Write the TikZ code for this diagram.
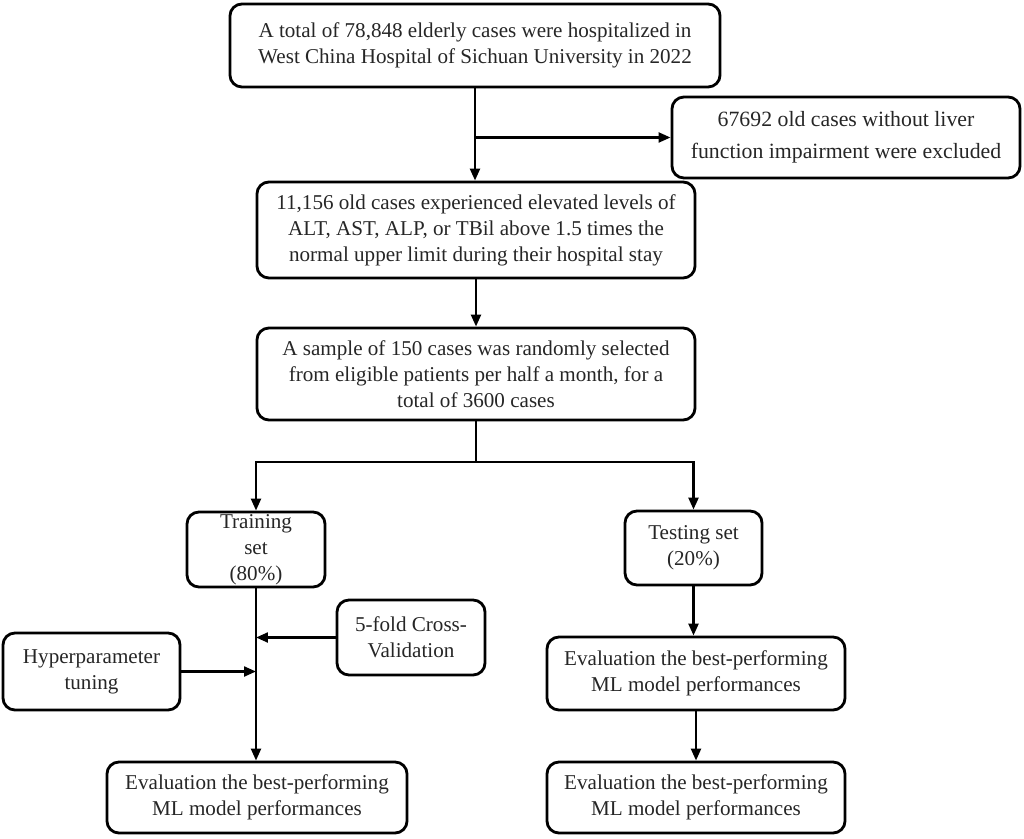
\documentclass[tikz,border=0pt]{standalone}
\usepackage{fontspec}
\setmainfont{Liberation Serif}
\usetikzlibrary{arrows.meta}
\begin{document}
\begin{tikzpicture}[x=0.025cm, y=-0.025cm,
  box/.style={draw=black, line width=2pt, rounded corners=0.3cm, align=center,
    inner sep=0pt, font=\fontsize{15}{18.5}\selectfont, text=black!85},
  arr/.style={line width=1.8pt, -{Triangle[length=8.5pt,width=7pt]}},
  ln/.style={line width=1.8pt}]
\useasboundingbox (0,0) rectangle (1024,839);
\node[box, minimum width=12.25cm, minimum height=2.075cm] (b1) at (475,45.5)
  {A total of 78,848 elderly cases were hospitalized in\\West China Hospital of Sichuan University in 2022};
\node[box, minimum width=8.7cm, minimum height=2.025cm, font=\fontsize{15.5}{23}\selectfont] (excl) at (846,137.5)
  {67692 old cases without liver\\function impairment were excluded};
\node[box, minimum width=10.95cm, minimum height=2.4cm] (b3) at (476,230)
  {11,156 old cases experienced elevated levels of\\ALT, AST, ALP, or TBil above 1.5 times the\\normal upper limit during their hospital stay};
\node[box, minimum width=10.95cm, minimum height=2.3cm] (b4) at (476,374)
  {A sample of 150 cases was randomly selected\\from eligible patients per half a month, for a\\total of 3600 cases};
\node[box, minimum width=3.45cm, minimum height=1.875cm] (train) at (256,549.5)
  {Training\\set\\(80\%)};
\node[box, minimum width=3.425cm, minimum height=1.85cm] (test) at (693.5,548)
  {Testing set\\(20\%)};
\node[box, minimum width=3.7cm, minimum height=1.875cm] (cv) at (411,637.5)
  {5-fold Cross-\\Validation};
\node[box, minimum width=4.425cm, minimum height=1.925cm] (hp) at (91.5,671.5)
  {Hyperparameter\\tuning};
\node[box, minimum width=7.5cm, minimum height=1.775cm] (evl) at (257,797.5)
  {Evaluation the best-performing\\ML model performances};
\node[box, minimum width=7.45cm, minimum height=1.825cm] (evr1) at (696,673.5)
  {Evaluation the best-performing\\ML model performances};
\node[box, minimum width=7.45cm, minimum height=1.775cm] (evr2) at (696,797.5)
  {Evaluation the best-performing\\ML model performances};
% connectors
\draw[arr] (b1.south) -- (b1.south |- b3.north);
\coordinate (j1) at (b1.south |- excl.west);
\draw[arr] (j1) -- (excl.west);
\draw[arr] (b3.south) -- (b4.north);
\coordinate (s) at (476,462);
\draw[ln] (b4.south) -- (s);
\draw[arr] (s) -| (train.north);
\draw[arr] (s) -| (test.north);
\draw[arr] (train.south) -- (train.south |- evl.north);
\draw[arr] (cv.west) -- (cv.west -| train.south);
\draw[arr] (hp.east) -- (hp.east -| train.south);
\draw[arr] (test.south) -- (test.south |- evr1.north);
\draw[arr] (evr1.south) -- (evr2.north);
\end{tikzpicture}
\end{document}
